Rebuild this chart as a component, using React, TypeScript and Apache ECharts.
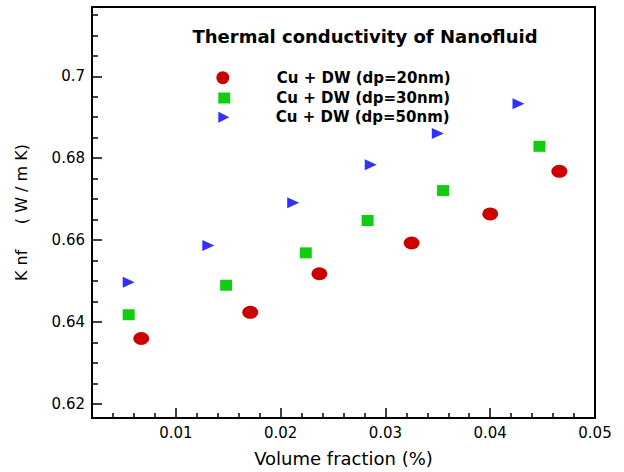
import React, { useEffect, useRef } from "react";
import * as echarts from "echarts";

const titleText = "Thermal conductivity of Nanofluid";
const seriesNames = ["Cu + DW (dp=20nm)", "Cu + DW (dp=30nm)", "Cu + DW (dp=50nm)"];

const dp20X = [0.0067, 0.0171, 0.0237, 0.0325, 0.04, 0.0466];
const dp20Y = [0.636, 0.6424, 0.6518, 0.6593, 0.6664, 0.6768];
const dp30X = [0.0055, 0.0148, 0.0224, 0.0283, 0.0355, 0.0447];
const dp30Y = [0.6418, 0.649, 0.6569, 0.6648, 0.6721, 0.6829];
const dp50X = [0.0055, 0.0131, 0.0212, 0.0286, 0.035, 0.0427];
const dp50Y = [0.6497, 0.6587, 0.6691, 0.6784, 0.686, 0.6933];

const xTicks = [0.01, 0.02, 0.03, 0.04, 0.05];
const xMinorTicks = [0.004, 0.006, 0.008, 0.012, 0.014, 0.016, 0.018, 0.022, 0.024, 0.026, 0.028, 0.032, 0.034, 0.036, 0.038, 0.042, 0.044, 0.046, 0.048];
const yTicks = [0.62, 0.64, 0.66, 0.68, 0.7];
const yMinorTicks = [0.625, 0.63, 0.635, 0.645, 0.65, 0.655, 0.665, 0.67, 0.675, 0.685, 0.69, 0.695, 0.705, 0.71, 0.715];

const X_MIN = 0.002;
const X_MAX = 0.05;
const Y_MIN = 0.6166;
const Y_MAX = 0.7169;

const FONT = "DejaVu Sans";
const ELLIPSE = "path://M0,50A50,50,0,1,1,100,50A50,50,0,1,1,0,50Z";
const TRI_RIGHT = "path://M0,0L100,50L0,100Z";

const zip = (xs: number[], ys: number[]) => xs.map((x, i) => [x, ys[i]]);
const fmt = (v: number) => String(parseFloat(Number(v).toFixed(4)));

export default function App() {
  const ref = useRef<HTMLDivElement>(null);
  useEffect(() => {
    if (!ref.current) return;
    const chart = echarts.init(ref.current, undefined, { renderer: "svg" });
    const gridRect = { left: 92, top: 7, width: 503, height: 411 };
    const legendText = (h: number, pad: number) => ({
      fontFamily: FONT,
      fontWeight: "bold" as const,
      fontSize: 15,
      color: "#000",
      lineHeight: h,
      padding: [0, 0, 0, pad],
    });
    chart.setOption({
      animation: false,
      backgroundColor: "#fff",
      title: {
        text: titleText,
        left: 365,
        top: 27,
        textAlign: "center",
        padding: 0,
        textStyle: { fontFamily: FONT, fontWeight: "bold", fontSize: 18, color: "#000" },
      },
      legend: [
        {
          data: [seriesNames[0]], orient: "vertical", left: 216.3, top: 70.2, padding: 0,
          itemWidth: 16, itemHeight: 13, selectedMode: false, textStyle: legendText(13, 41),
        },
        {
          data: [seriesNames[1]], orient: "vertical", left: 218.3, top: 90.5, padding: 0,
          itemWidth: 12, itemHeight: 11, selectedMode: false, textStyle: legendText(11, 41),
        },
        {
          data: [seriesNames[2]], orient: "vertical", left: 218.3, top: 109.8, padding: 0,
          itemWidth: 12, itemHeight: 11, selectedMode: false, textStyle: legendText(11, 41),
        },
      ],
      grid: [
        { ...gridRect, show: true, borderColor: "#000", borderWidth: 2, backgroundColor: "transparent" },
        { ...gridRect, show: false },
      ],
      xAxis: [
        {
          type: "value", gridIndex: 0, min: X_MIN, max: X_MAX, position: "bottom",
          splitLine: { show: false },
          axisLine: { show: true, lineStyle: { color: "#000", width: 2 } },
          axisTick: { show: true, inside: true, length: 10, customValues: xTicks, lineStyle: { color: "#000", width: 1.5 } },
          axisLabel: { customValues: xTicks, fontFamily: FONT, fontSize: 15, color: "#000", margin: 7, formatter: fmt },
          name: "Volume fraction (%)", nameLocation: "middle", nameGap: 31,
          nameTextStyle: { fontFamily: FONT, fontSize: 18, color: "#000" },
        },
        {
          type: "value", gridIndex: 1, min: X_MIN, max: X_MAX, position: "bottom",
          splitLine: { show: false },
          axisLine: { show: false },
          axisTick: { show: true, inside: true, length: 5, customValues: xMinorTicks, lineStyle: { color: "#000", width: 1.5 } },
          axisLabel: { show: false },
        },
      ],
      yAxis: [
        {
          type: "value", gridIndex: 0, min: Y_MIN, max: Y_MAX, position: "left",
          splitLine: { show: false },
          axisLine: { show: true, lineStyle: { color: "#000", width: 2 } },
          axisTick: { show: true, inside: true, length: 10, customValues: yTicks, lineStyle: { color: "#000", width: 1.5 } },
          axisLabel: { customValues: yTicks, fontFamily: FONT, fontSize: 15, color: "#000", margin: 7, formatter: fmt },
          name: "K nf     ( W / m K)", nameLocation: "middle", nameGap: 63,
          nameTextStyle: { fontFamily: FONT, fontSize: 16, color: "#000" },
        },
        {
          type: "value", gridIndex: 1, min: Y_MIN, max: Y_MAX, position: "left",
          splitLine: { show: false },
          axisLine: { show: false },
          axisTick: { show: true, inside: true, length: 6, customValues: yMinorTicks, lineStyle: { color: "#000", width: 1.5 } },
          axisLabel: { show: false },
        },
      ],
      series: [
        {
          name: seriesNames[0], type: "scatter", xAxisIndex: 0, yAxisIndex: 0,
          symbol: ELLIPSE, symbolSize: [16, 13], itemStyle: { color: "#cc0000", opacity: 1 },
          data: zip(dp20X, dp20Y),
        },
        {
          name: seriesNames[1], type: "scatter", xAxisIndex: 0, yAxisIndex: 0,
          symbol: "rect", symbolSize: [12, 11], itemStyle: { color: "#11cc11", opacity: 1 },
          data: zip(dp30X, dp30Y),
        },
        {
          name: seriesNames[2], type: "scatter", xAxisIndex: 0, yAxisIndex: 0,
          symbol: TRI_RIGHT, symbolSize: [12, 11], itemStyle: { color: "#3030ff", opacity: 1 },
          data: zip(dp50X, dp50Y),
        },
      ],
    });
    return () => chart.dispose();
  }, []);
  return (
    <div
      ref={ref}
      style={{ position: "fixed", left: 0, top: 0, width: 624, height: 472, background: "#fff" }}
    />
  );
}
